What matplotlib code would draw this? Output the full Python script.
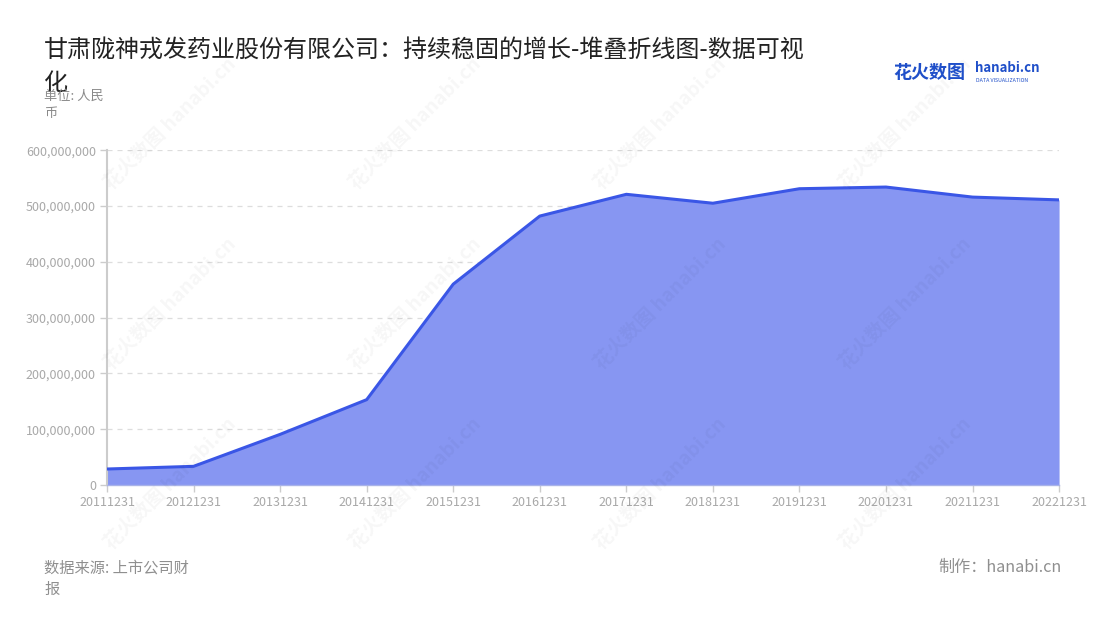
import matplotlib
matplotlib.use('Agg')
import matplotlib.pyplot as plt
from matplotlib.ticker import FuncFormatter

plt.rcParams['font.family'] = ['Noto Sans CJK SC', 'DejaVu Sans']

TITLE = '甘肃陇神戎发药业股份有限公司：持续稳固的增长-堆叠折线图-数据可视\n化'
UNIT = '单位: 人民\n币'
SOURCE = '数据来源: 上市公司财\n报'
MAKER = '制作：hanabi.cn'

periods = ['20111231', '20121231', '20131231', '20141231', '20151231', '20161231',
           '20171231', '20181231', '20191231', '20201231', '20211231', '20221231']
values = [28.7e6, 33.5e6, 90.8e6, 153e6, 360e6, 482e6,
          521e6, 505e6, 531e6, 534e6, 516e6, 511e6]
yticks = [0, 100e6, 200e6, 300e6, 400e6, 500e6, 600e6]

LINE = '#3a56e6'
FILL = '#8796f2'


def draw_watermarks(fig):
    cols = [0.155, 0.378, 0.6, 0.823]
    for x in cols:
        for y in [0.8, 0.51, 0.22]:
            fig.text(x, y, '花火数图 hanabi.cn', rotation=45, fontsize=14,
                     color='#000000', alpha=0.035, ha='center', va='center',
                     fontweight='bold')


def main():
    fig = plt.figure(figsize=(11, 6.2), dpi=100)
    ax = fig.add_axes([0.0973, 0.2177, 0.8655, 0.540])

    x = list(range(len(periods)))
    ax.fill_between(x, values, 0, color=FILL, linewidth=0, zorder=2)
    ax.plot(x, values, color=LINE, linewidth=2.2, zorder=3, solid_joinstyle='round')

    ax.set_xlim(0, len(periods) - 1)
    ax.set_ylim(0, 600e6)
    ax.set_yticks(yticks)
    ax.yaxis.set_major_formatter(FuncFormatter(lambda v, p: f'{int(v):,}'))
    ax.set_xticks(x)
    ax.set_xticklabels(periods)
    ax.tick_params(axis='both', labelsize=9, colors='#cccccc', labelcolor='#a8a8a8',
                   length=5, width=1)
    ax.tick_params(axis='x', pad=3)
    ax.tick_params(axis='y', pad=3)

    ax.grid(axis='y', linestyle=(0, (4, 4)), color='#dddddd', linewidth=0.9, zorder=1)
    for s in ['top', 'right']:
        ax.spines[s].set_visible(False)
    ax.spines['left'].set_color('#cccccc')
    ax.spines['left'].set_linewidth(1.5)
    ax.spines['bottom'].set_color('#a9b3e8')
    ax.spines['bottom'].set_linewidth(1)

    draw_watermarks(fig)

    fig.text(0.04, 0.94, TITLE, fontsize=17.3, color='#222222', ha='left', va='top',
             linespacing=1.35)
    fig.text(0.04, 0.855, UNIT, fontsize=9.5, color='#8a8a8a', ha='left', va='top',
             linespacing=1.45)
    fig.text(0.04, 0.098, SOURCE, fontsize=11, color='#8f8f8f', ha='left', va='top',
             linespacing=1.35)
    fig.text(0.965, 0.098, MAKER, fontsize=11.6, color='#8f8f8f', ha='right', va='top')

    # logo
    fig.text(0.812, 0.883, '花火数图', fontsize=13, color='#1f4fc9', ha='left',
             va='center', fontweight='bold')
    fig.text(0.886, 0.89, 'hanabi.cn', fontsize=9.5, color='#1f4fc9', ha='left',
             va='center', fontweight='bold')
    fig.text(0.887, 0.87, 'DATA VISUALIZATION', fontsize=3.8, color='#1f4fc9',
             ha='left', va='center')

    fig.savefig('out.png', dpi=100)


if __name__ == '__main__':
    main()
